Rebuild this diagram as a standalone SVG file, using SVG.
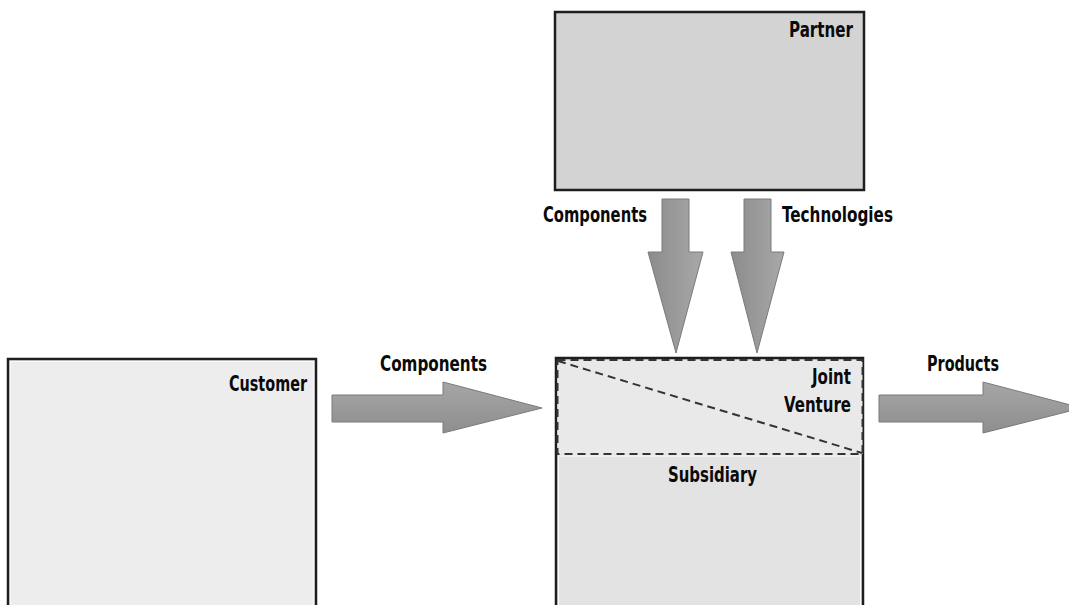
<svg xmlns="http://www.w3.org/2000/svg" width="1069" height="605" viewBox="0 0 1069 605">
<defs>
<linearGradient id="gv" x1="0" y1="0" x2="1" y2="0">
<stop offset="0" stop-color="#8c8c8c"/>
<stop offset="1" stop-color="#a8a8a8"/>
</linearGradient>
<linearGradient id="gh" x1="0" y1="0" x2="0" y2="1">
<stop offset="0" stop-color="#a6a6a6"/>
<stop offset="1" stop-color="#8e8e8e"/>
</linearGradient>
<style>
.box{stroke:#1e1e1e;stroke-width:2.5}
.inner{fill:none;stroke:#fafafa;stroke-width:1}
.lbl{font-family:"DejaVu Sans Condensed","DejaVu Sans","Liberation Sans",sans-serif;font-weight:bold;font-size:21px;fill:#0a0a0a}
.dash{fill:none;stroke:#333;stroke-width:2;stroke-dasharray:8,5}
.av{fill:url(#gv);stroke:#7a7a7a;stroke-width:1}
.ah{fill:url(#gh);stroke:#7a7a7a;stroke-width:1}
</style>
</defs>
<rect width="1069" height="605" fill="#ffffff"/>
<g id="partner">
<rect class="box" x="555" y="12" width="309" height="178" fill="#d3d3d3"/>
<text class="lbl" x="789" y="37" textLength="64" lengthAdjust="spacingAndGlyphs">Partner</text>
</g>
<g id="customer">
<rect class="box" x="8" y="359" width="308" height="260" fill="#ededed"/>
<rect class="inner" x="10.5" y="361.5" width="303" height="260"/>
<text class="lbl" x="229" y="391" textLength="78" lengthAdjust="spacingAndGlyphs">Customer</text>
</g>
<g id="subsidiary">
<rect class="box" x="556" y="358" width="307" height="260" fill="#e3e3e3"/>
<rect class="inner" x="558.5" y="456" width="302" height="160"/>
<text class="lbl" x="668" y="482" textLength="89" lengthAdjust="spacingAndGlyphs">Subsidiary</text>
</g>
<g id="joint-venture">
<rect x="557.5" y="360" width="305" height="94" fill="#e9e9e9"/>
<rect class="dash" x="557.5" y="360" width="305" height="94"/>
<line class="dash" x1="558" y1="361" x2="862" y2="453"/>
<text class="lbl" x="812" y="384" textLength="39" lengthAdjust="spacingAndGlyphs">Joint</text>
<text class="lbl" x="784" y="412" textLength="67" lengthAdjust="spacingAndGlyphs">Venture</text>
</g>
<g id="connectors">
<polygon class="av" points="662,199 689,199 689,252 703,252 676,353 648,252 662,252"/>
<polygon class="av" points="744,199 771,199 771,252 784,252 757,353 731,252 744,252"/>
<polygon class="ah" points="332,395 443,395 443,382 542,408 443,433 443,422 332,422"/>
<polygon class="ah" points="879,395 983,395 983,382 1082,408 983,433 983,422 879,422"/>
<text class="lbl" x="543" y="222" textLength="104" lengthAdjust="spacingAndGlyphs">Components</text>
<text class="lbl" x="782" y="222" textLength="111" lengthAdjust="spacingAndGlyphs">Technologies</text>
<text class="lbl" x="380" y="371" textLength="107" lengthAdjust="spacingAndGlyphs">Components</text>
<text class="lbl" x="927" y="371" textLength="72" lengthAdjust="spacingAndGlyphs">Products</text>
</g>
</svg>
